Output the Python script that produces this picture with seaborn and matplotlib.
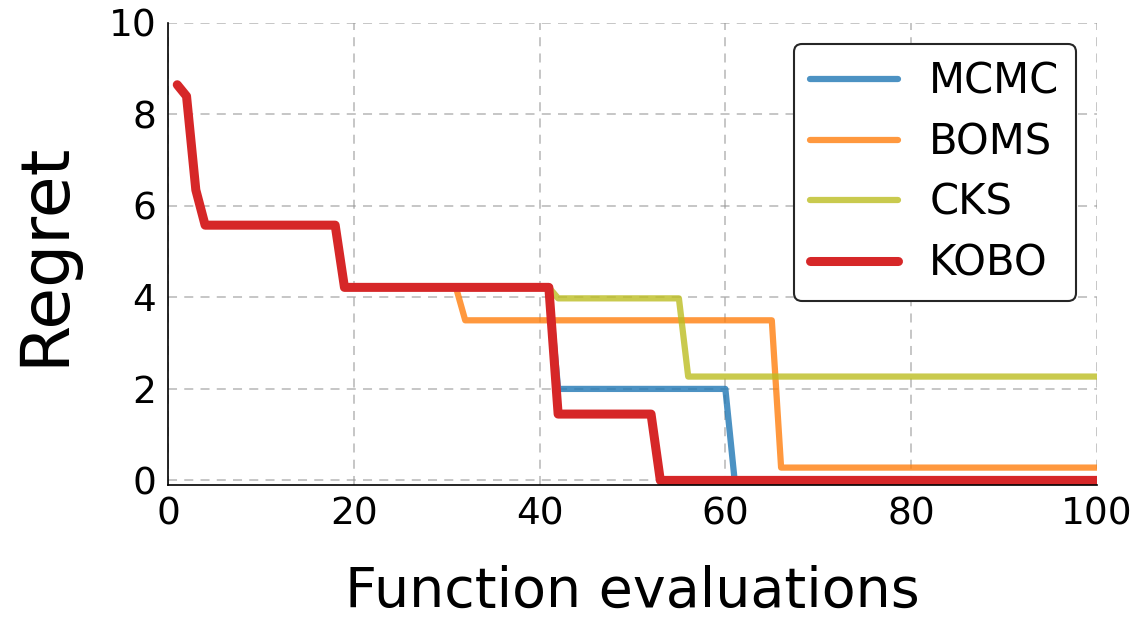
import matplotlib
matplotlib.use("Agg")
import pandas as pd
import seaborn as sns
import matplotlib.pyplot as plt

sns.set_style("white")
plt.rcParams['font.family'] = ['DejaVu Sans']
plt.rcParams['text.color'] = 'black'
plt.rcParams['axes.labelcolor'] = 'black'

# regret values at the evaluations where a curve changes
kobo_x = [1, 2, 3, 4, 18, 19, 41, 42, 52, 53, 100]
kobo_y = [8.65, 8.4, 6.35, 5.58, 5.58, 4.22, 4.22, 1.45, 1.45, 0.0, 0.0]

mcmc_x = [1, 2, 3, 4, 18, 19, 41, 42, 60, 61, 100]
mcmc_y = [8.65, 8.4, 6.35, 5.58, 5.58, 4.22, 4.22, 2.0, 2.0, 0.0, 0.0]

boms_x = [1, 2, 3, 4, 18, 19, 31, 32, 65, 66, 100]
boms_y = [8.65, 8.4, 6.35, 5.58, 5.58, 4.22, 4.22, 3.5, 3.5, 0.28, 0.28]

cks_x = [1, 2, 3, 4, 18, 19, 41, 42, 55, 56, 100]
cks_y = [8.65, 8.4, 6.35, 5.58, 5.58, 4.22, 4.22, 3.98, 3.98, 2.27, 2.27]

methods = ['MCMC', 'BOMS', 'CKS', 'KOBO']
xs = [mcmc_x, boms_x, cks_x, kobo_x]
ys = [mcmc_y, boms_y, cks_y, kobo_y]
colors = ['tab:blue', 'tab:orange', 'tab:olive', 'tab:red']
alphas = [0.8, 0.8, 0.8, 1.0]
widths = [4.5, 4.5, 4.5, 6.5]

fig = plt.figure(figsize=(11.41, 6.3), dpi=100)
ax = fig.add_axes([0.1472, 0.2302, 0.8142, 0.7333])

for name, x, y, c, a, w in zip(methods, xs, ys, colors, alphas, widths):
    df = pd.DataFrame({'x': x, 'y': y})
    sns.lineplot(data=df, x='x', y='y', ax=ax, color=c, alpha=a, lw=w, label=name)

ax.set_xlim(0, 100)
ax.set_ylim(-0.1, 10)
ax.set_xticks([0, 20, 40, 60, 80, 100])
ax.set_yticks([0, 2, 4, 6, 8, 10])
ax.tick_params(labelsize=27, length=5, width=1.2, colors='black')
ax.grid(True, ls=(0, (5, 4)), color='0.6', alpha=0.6, lw=1.3)
sns.despine(ax=ax)
for s in ['left', 'bottom']:
    ax.spines[s].set_color('black')
    ax.spines[s].set_linewidth(1.2)

ax.set_xlabel('Function evaluations', fontsize=40, labelpad=23)
ax.set_ylabel('Regret', fontsize=49, labelpad=22)

leg = ax.legend(loc='upper right', fontsize=30, frameon=True, fancybox=True,
                framealpha=1, edgecolor='0.15', borderpad=0.4, handlelength=2.1,
                handletextpad=0.75, labelspacing=0.45)
leg.get_frame().set_linewidth(1.5)

fig.savefig('out.png', dpi=100)
